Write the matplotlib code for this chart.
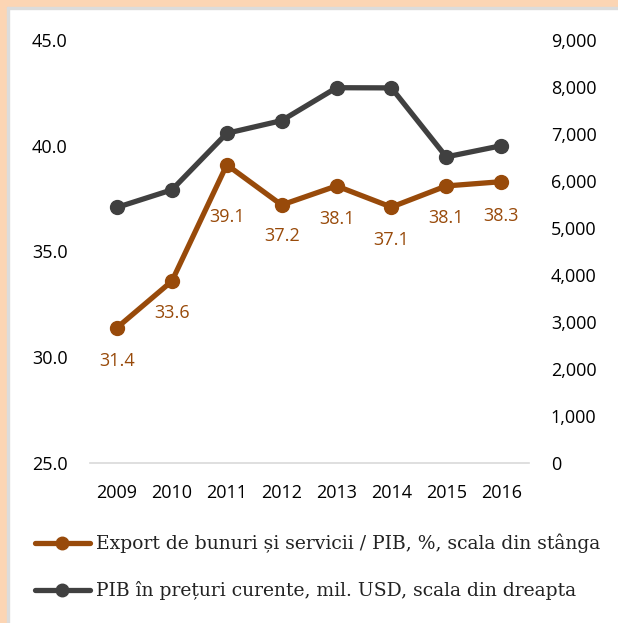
import matplotlib
matplotlib.use("Agg")
import matplotlib.pyplot as plt
from matplotlib.patches import Rectangle
from matplotlib.ticker import FuncFormatter

years = ["2009", "2010", "2011", "2012", "2013", "2014", "2015", "2016"]
export_pct = [31.4, 33.6, 39.1, 37.2, 38.1, 37.1, 38.1, 38.3]
gdp_musd = [5439, 5812, 7015, 7285, 7985, 7981, 6513, 6750]

label_export = "Export de bunuri și servicii / PIB, %, scala din stânga"
label_gdp = "PIB în prețuri curente, mil. USD, scala din dreapta"

orange = "#984a0a"
grey = "#404040"
peach = "#fcd5b4"

fig = plt.figure(figsize=(6.18, 6.23), dpi=100)
W, H = 618, 623

# peach frame on left / top plus thin grey inner line
fig.patches.append(Rectangle((0, 0), 7 / W, 1, transform=fig.transFigure, color=peach, zorder=0))
fig.patches.append(Rectangle((0, 1 - 7 / H), 1, 7 / H, transform=fig.transFigure, color=peach, zorder=0))
fig.patches.append(Rectangle((7 / W, 0), 2 / W, 1 - 7 / H, transform=fig.transFigure, color="#dcdcdc", zorder=0))
fig.patches.append(Rectangle((7 / W, 1 - 9 / H), 1, 2 / H, transform=fig.transFigure, color="#dcdcdc", zorder=0))

left, right, bottom, top = 89.6, 528.6, 463, 40
ax = fig.add_axes([left / W, 1 - bottom / H, (right - left) / W, (bottom - top) / H])
ax.patch.set_alpha(0)
ax2 = ax.twinx()

x = list(range(len(years)))
ax2.plot(x, gdp_musd, color=grey, lw=3.8, marker="o", ms=10, solid_capstyle="round", zorder=3)
ax.plot(x, export_pct, color=orange, lw=3.8, marker="o", ms=10, solid_capstyle="round", zorder=3)
ax.set_zorder(ax2.get_zorder() + 1)

offsets = [-33, -32, -52, -31, -33, -33, -32, -34]
for xi, v, off in zip(x, export_pct, offsets):
    ax.annotate(f"{v:.1f}", (xi, v), xytext=(0, off * 0.72), textcoords="offset points",
                ha="center", va="center", color=orange, fontsize=13, family="Open Sans")

ax.set_xlim(-0.5, len(years) - 0.5)
ax.set_ylim(25, 45)
ax.set_yticks([25, 30, 35, 40, 45])
ax.yaxis.set_major_formatter(FuncFormatter(lambda v, p: f"{v:.1f}"))
ax2.set_ylim(0, 9000)
ax2.set_yticks(range(0, 9001, 1000))
ax2.yaxis.set_major_formatter(FuncFormatter(lambda v, p: f"{int(v):,}"))
ax.set_xticks(x)
ax.set_xticklabels(years)

for a in (ax, ax2):
    for s in a.spines.values():
        s.set_visible(False)
    a.tick_params(length=0, labelsize=13)
ax.spines["bottom"].set_visible(True)
ax.spines["bottom"].set_color("#d9d9d9")
ax.spines["bottom"].set_linewidth(1.2)
ax.tick_params(axis="y", pad=16)
ax2.tick_params(axis="y", pad=16)
ax.tick_params(axis="x", pad=15)
for t in ax.get_yticklabels() + ax2.get_yticklabels():
    t.set_family("Open Sans")
for t in ax.get_xticklabels():
    t.set_family("Open Sans")

# legend drawn manually below the plot
for i, (lab, col) in enumerate([(label_export, orange), (label_gdp, grey)]):
    ly = 1 - (543 + i * 47) / H
    fig.add_artist(plt.Line2D([35 / W, 90 / W], [ly, ly], color=col, lw=3.8,
                              solid_capstyle="round", transform=fig.transFigure))
    fig.add_artist(plt.Line2D([62 / W], [ly], color=col, marker="o", ms=9,
                              transform=fig.transFigure))
    fig.text(96 / W, ly, lab, ha="left", va="center", fontsize=13.5,
             family="DejaVu Serif", color="#222222")

fig.savefig("out.png", dpi=100)
